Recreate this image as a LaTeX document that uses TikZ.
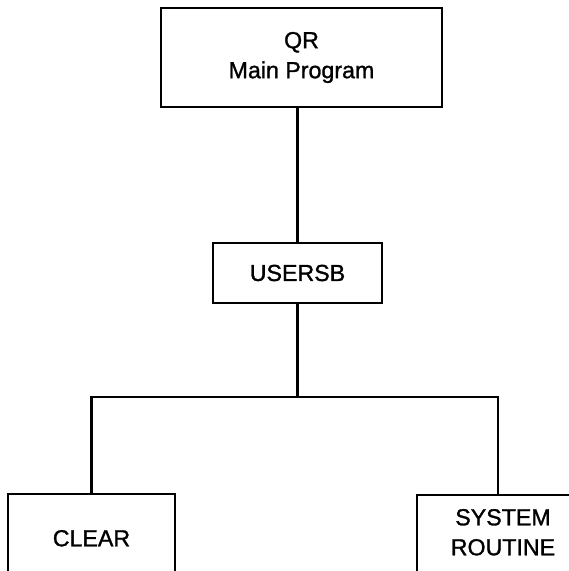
\documentclass[tikz,border=0pt]{standalone}
\usepackage{fontspec}
\setmainfont{Liberation Sans}
\newfontfamily\boxfont[BoldFont=Liberation Sans, BoldFeatures={FakeBold=1.2}]{Liberation Sans}

\begin{document}
\begin{tikzpicture}[x=1pt, y=-1pt, line width=2.2pt,
        every node/.style={rectangle, draw, align=center, inner sep=0pt, font=\boxfont\bfseries\fontsize{23.2}{30}\selectfont}]
            \useasboundingbox (0,0) rectangle (569,571);
            \clip (0,0) rectangle (569,571);
            % boxes, the two bottom ones run off the page
            \node[minimum width=281, minimum height=99] (qr) at (301.5,57.5) {QR\\Main Program};
            \node[minimum width=169, minimum height=60] (usersb) at (297.5,273) {USERSB};
            \node[anchor=north, minimum width=167, inner ysep=36pt] (clear) at (91.5,493) {CLEAR};
            \node[anchor=north, minimum width=172, inner ysep=14pt, text depth=20pt] (sysrt) at (503,494) {SYSTEM\\ROUTINE};
            \coordinate (fork) at (297.5,397);
            \draw (usersb.north) -- (usersb.north |- qr.south);
            \draw (usersb) -- (fork);
            \draw (clear.north) |- (fork) -| ([xshift=-5pt]sysrt.north);
        \end{tikzpicture}
\end{document}
